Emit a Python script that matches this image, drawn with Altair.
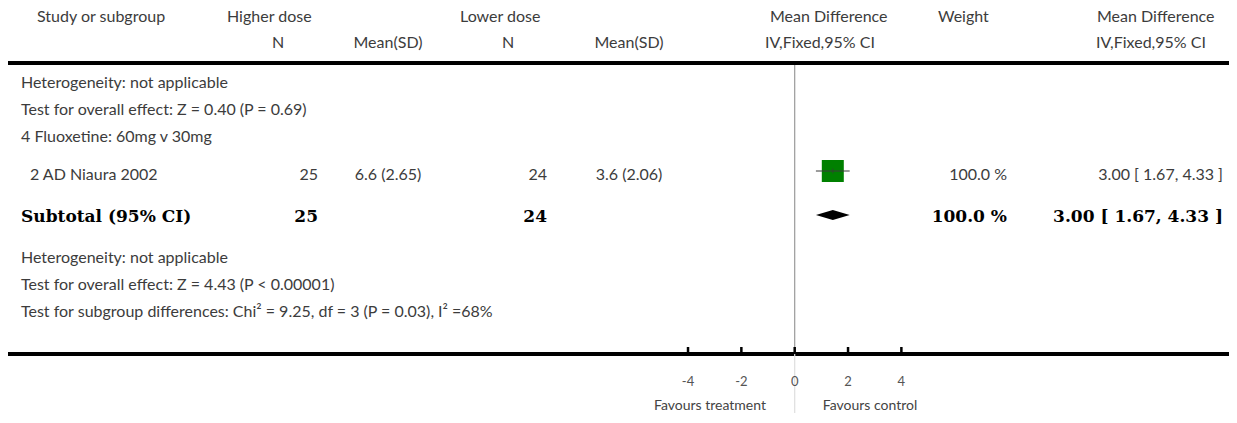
import altair as alt
import pandas as pd

# ------------------------------------------------------------------ data
HEADER_TOP = ["Study or subgroup", "Higher dose", "Lower dose", "Mean Difference", "Weight", "Mean Difference"]
HEADER_SUB = ["N", "Mean(SD)", "N", "Mean(SD)", "IV,Fixed,95% CI", "IV,Fixed,95% CI"]
NOTES_BEFORE = ["Heterogeneity: not applicable", "Test for overall effect: Z = 0.40 (P = 0.69)"]
GROUP = "4 Fluoxetine: 60mg v 30mg"
STUDY = "2 AD Niaura 2002"
N_HIGH = 25
MEAN_HIGH = 6.6
SD_HIGH = 2.65
N_LOW = 24
MEAN_LOW = 3.6
SD_LOW = 2.06
WEIGHT = 100.0
MD = 3.00
CI_LO = 1.67
CI_HI = 4.33
SUBTOTAL_LABEL = "Subtotal (95% CI)"
SUB_N_HIGH = 25
SUB_N_LOW = 24
SUB_WEIGHT = 100.0
SUB_MD = 3.00
SUB_LO = 1.67
SUB_HI = 4.33
NOTES_AFTER = [
    "Heterogeneity: not applicable",
    "Test for overall effect: Z = 4.43 (P < 0.00001)",
    "Test for subgroup differences: Chi\u00b2 = 9.25, df = 3 (P = 0.03), I\u00b2 =68%",
]
AXIS_TICKS = [-4, -2, 0, 2, 4]
FAVOURS = ["Favours treatment", "Favours control"]

# ------------------------------------------------------------------ layout (page pixels)
MARGIN = 8
W, H = 1221, 405
ROW = dict(h1=17, h2=43, top_rule=63, n1=83, n2=110, grp=137, study=175, study_mark=171,
           sub=217, sub_mark=215, n3=258, n4=285, n5=312, axis=354, tick_top=347,
           tlab=382, fav=406)
COL = dict(study_h=37, higher=227, lower=460, md=770, weight=938, md2=1097,
           n_h=278, msd_h=388, n_l=508, msd_l=629, ivf=765, ivf2=1096,
           left=21, indent=30, n_h_r=318, n_l_r=547, w_r=1007, ci_r=1223,
           fav_t=710, fav_c=870)
ZERO_PX = 794.7
MARK_PX_PER_UNIT = 12.7
TICK_PX_PER_UNIT = 26.67
DIAMOND_HALF = 5

SANS = "Lato"
SERIF = "DejaVu Serif"
TXT = "#3c3c3c"

X0, X1 = MARGIN, MARGIN + W
PX_X = alt.Scale(domain=[X0, X1], nice=False, zero=False)
PX_Y = alt.Scale(domain=[MARGIN, MARGIN + H], reverse=True, nice=False, zero=False)
MARK_X = alt.Scale(domain=[(X0 - ZERO_PX) / MARK_PX_PER_UNIT, (X1 - ZERO_PX) / MARK_PX_PER_UNIT],
                   nice=False, zero=False)
TICK_X = alt.Scale(domain=[(X0 - ZERO_PX) / TICK_PX_PER_UNIT, (X1 - ZERO_PX) / TICK_PX_PER_UNIT],
                   nice=False, zero=False)


def fmt_ci(md, lo, hi):
    return f"{md:.2f} [ {lo:.2f}, {hi:.2f} ]"


left_normal = [
    (HEADER_TOP[0], COL["study_h"], ROW["h1"]),
    (HEADER_TOP[1], COL["higher"], ROW["h1"]),
    (HEADER_TOP[2], COL["lower"], ROW["h1"]),
    (HEADER_TOP[3], COL["md"], ROW["h1"]),
    (HEADER_TOP[4], COL["weight"], ROW["h1"]),
    (HEADER_TOP[5], COL["md2"], ROW["h1"]),
    (HEADER_SUB[4], COL["ivf"], ROW["h2"]),
    (HEADER_SUB[5], COL["ivf2"], ROW["h2"]),
    (NOTES_BEFORE[0], COL["left"], ROW["n1"]),
    (NOTES_BEFORE[1], COL["left"], ROW["n2"]),
    (GROUP, COL["left"], ROW["grp"]),
    (STUDY, COL["indent"], ROW["study"]),
    (NOTES_AFTER[0], COL["left"], ROW["n3"]),
    (NOTES_AFTER[1], COL["left"], ROW["n4"]),
    (NOTES_AFTER[2], COL["left"], ROW["n5"]),
]
center_normal = [
    (HEADER_SUB[0], COL["n_h"], ROW["h2"]),
    (HEADER_SUB[1], COL["msd_h"], ROW["h2"]),
    (HEADER_SUB[2], COL["n_l"], ROW["h2"]),
    (HEADER_SUB[3], COL["msd_l"], ROW["h2"]),
    (f"{MEAN_HIGH} ({SD_HIGH})", COL["msd_h"], ROW["study"]),
    (f"{MEAN_LOW} ({SD_LOW})", COL["msd_l"], ROW["study"]),
]
small_center = [
    (FAVOURS[0], COL["fav_t"], ROW["fav"]),
    (FAVOURS[1], COL["fav_c"], ROW["fav"]),
]
right_normal = [
    (str(N_HIGH), COL["n_h_r"], ROW["study"]),
    (str(N_LOW), COL["n_l_r"], ROW["study"]),
    (f"{WEIGHT:.1f} %", COL["w_r"], ROW["study"]),
    (fmt_ci(MD, CI_LO, CI_HI), COL["ci_r"], ROW["study"]),
]
left_bold = [(SUBTOTAL_LABEL, COL["left"], ROW["sub"])]
right_bold = [
    (str(SUB_N_HIGH), COL["n_h_r"], ROW["sub"]),
    (str(SUB_N_LOW), COL["n_l_r"], ROW["sub"]),
    (f"{SUB_WEIGHT:.1f} %", COL["w_r"], ROW["sub"]),
    (fmt_ci(SUB_MD, SUB_LO, SUB_HI), COL["ci_r"], ROW["sub"]),
]


def tdf(items):
    return pd.DataFrame(items, columns=["text", "x", "y"])


def text_layer(items, align, font, size, weight, color):
    return alt.Chart(tdf(items)).mark_text(
        align=align, baseline="middle", font=font, fontSize=size, fontWeight=weight, color=color
    ).encode(
        x=alt.X("x:Q", scale=PX_X, axis=None),
        y=alt.Y("y:Q", scale=PX_Y, axis=None),
        text="text:N",
    )


layers = []
layers.append(text_layer(left_normal, "left", SANS, 16, "normal", TXT))
layers.append(text_layer(center_normal, "center", SANS, 16, "normal", TXT))
layers.append(text_layer(right_normal, "right", SANS, 16, "normal", TXT))
layers.append(text_layer(small_center, "center", SANS, 14, "normal", "#444444"))
layers.append(text_layer(left_bold, "left", SERIF, 17, "bold", "#000000"))
layers.append(text_layer(right_bold, "right", SERIF, 17, "bold", "#000000"))

# horizontal thick rules
hr = pd.DataFrame({"y": [ROW["top_rule"], ROW["axis"]]})
layers.append(
    alt.Chart(hr).mark_rule(color="#000000", strokeWidth=4).encode(
        y=alt.Y("y:Q", scale=PX_Y, axis=None), x=alt.value(0), x2=alt.value(W)
    )
)

# zero line (upper gray, lower light gray)
zl = pd.DataFrame({"v": [0, 0], "y": [ROW["top_rule"] + 2, ROW["axis"]], "y2": [ROW["axis"], MARGIN + H],
                   "c": ["#9a9a9a", "#dedede"]})
layers.append(
    alt.Chart(zl).mark_rule(strokeWidth=1.2).encode(
        x=alt.X("v:Q", scale=MARK_X, axis=None),
        y=alt.Y("y:Q", scale=PX_Y, axis=None),
        y2="y2:Q",
        color=alt.Color("c:N", scale=None),
    )
)

# axis ticks and labels
tk = pd.DataFrame({"t": AXIS_TICKS, "lab": [str(t) for t in AXIS_TICKS],
                   "y": ROW["tick_top"], "y2": ROW["axis"], "ly": ROW["tlab"]})
layers.append(
    alt.Chart(tk).mark_rule(color="#000000", strokeWidth=2.5).encode(
        x=alt.X("t:Q", scale=TICK_X, axis=None),
        y=alt.Y("y:Q", scale=PX_Y, axis=None),
        y2="y2:Q",
    )
)
layers.append(
    alt.Chart(tk).mark_text(font=SANS, fontSize=13, color="#555555", baseline="middle").encode(
        x=alt.X("t:Q", scale=TICK_X, axis=None),
        y=alt.Y("ly:Q", scale=PX_Y, axis=None),
        text="lab:N",
    )
)

# study marker: square + CI line + centre tick
st = pd.DataFrame({"v": [MD], "lo": [CI_LO], "hi": [CI_HI], "y": [ROW["study_mark"]]})
layers.append(
    alt.Chart(st).mark_square(size=484, color="#008000", opacity=1).encode(
        x=alt.X("v:Q", scale=MARK_X, axis=None), y=alt.Y("y:Q", scale=PX_Y, axis=None)
    )
)
layers.append(
    alt.Chart(st).mark_rule(color="#3a3a3a", strokeWidth=1).encode(
        x=alt.X("lo:Q", scale=MARK_X, axis=None), x2="hi:Q", y=alt.Y("y:Q", scale=PX_Y, axis=None)
    )
)
layers.append(
    alt.Chart(st).mark_tick(color="#3a3a3a", thickness=1, size=5, orient="vertical").encode(
        x=alt.X("v:Q", scale=MARK_X, axis=None), y=alt.Y("y:Q", scale=PX_Y, axis=None)
    )
)

# subtotal diamond
ym = ROW["sub_mark"]
dm = pd.DataFrame({
    "v": [SUB_LO, SUB_MD, SUB_HI],
    "y": [ym, ym - DIAMOND_HALF, ym],
    "y2": [ym, ym + DIAMOND_HALF, ym],
})
layers.append(
    alt.Chart(dm).mark_area(color="#000000", opacity=1).encode(
        x=alt.X("v:Q", scale=MARK_X, axis=None),
        y=alt.Y("y:Q", scale=PX_Y, axis=None),
        y2="y2:Q",
    )
)

chart = alt.layer(*layers).resolve_scale(x="independent").properties(
    width=W, height=H, padding=0, autosize=alt.AutoSizeParams(type="none")
).configure_view(stroke=None)

chart.save("out.html", embed_options={"renderer": "svg", "actions": False})
